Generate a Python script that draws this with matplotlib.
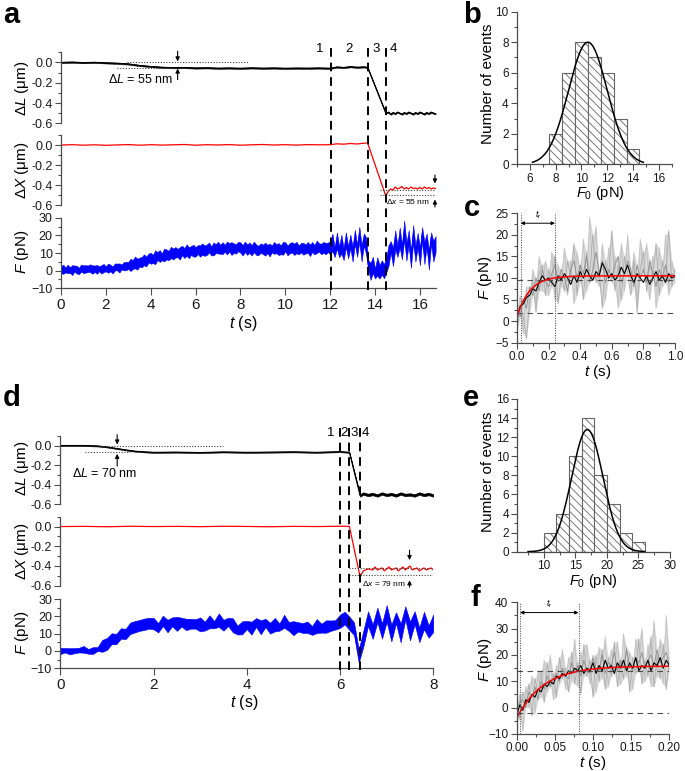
import numpy as np
import matplotlib
matplotlib.use('Agg')
import matplotlib.pyplot as plt
import matplotlib.transforms as mtrans
from matplotlib.lines import Line2D
from matplotlib.ticker import MultipleLocator

plt.rcParams['font.family'] = ['Liberation Sans', 'DejaVu Sans']
plt.rcParams['mathtext.fontset'] = 'custom'
plt.rcParams['mathtext.rm'] = 'Liberation Sans'
plt.rcParams['mathtext.it'] = 'Liberation Sans:italic'
plt.rcParams['hatch.linewidth'] = 0.6
plt.rcParams['hatch.color'] = '0.4'
plt.rcParams['axes.linewidth'] = 0.9

# ---------------- DATA ----------------
# Panel a : force trace (pN), sampled every 0.1 s from t = 0
Fa_dt = 0.1
Fa_center = [
    0.5, 0.8, 0.2, 1.0, 0.5, 0.3, 1.1, 0.6, 0.4, 0.9,
    1.2, 0.7, 1.5, 0.8, 1.0, 1.3, 0.6, 1.1, 0.9, 1.4,
    0.8, 1.2, 1.6, 1.0, 1.5, 2.0, 1.7, 2.3, 2.6, 2.4,
    3.0, 3.4, 3.2, 4.1, 4.5, 4.3, 5.2, 5.6, 6.0, 6.3,
    7.0, 6.8, 7.6, 8.0, 8.3, 8.1, 8.9, 9.2, 9.0, 9.6,
    10.0, 9.7, 10.4, 10.2, 10.8, 10.5, 11.0, 10.7, 11.2, 11.0,
    11.4, 11.1, 11.8, 11.5, 12.0, 11.7, 12.3, 12.0, 12.6, 12.2,
    12.8, 12.4, 13.0, 12.7, 12.5, 13.1, 12.8, 12.6, 13.0, 12.7,
    12.9, 12.5, 12.8, 12.3, 12.6, 12.2, 12.5, 12.0, 12.4, 12.1,
    12.2, 11.9, 12.4, 12.0, 12.3, 12.6, 12.2, 12.5, 12.1, 12.4,
    12.7, 12.3, 12.9, 12.5, 12.8, 12.4, 12.6, 12.3, 12.7, 12.5,
    12.6, 12.2, 12.9, 12.5, 13.1, 12.7, 13.0, 12.6, 13.2, 12.8,
    13.0, 16.0, 10.0, 17.0, 11.0, 15.0, 9.0, 17.5, 11.5, 15.5,
    10.0, 18.5, 12.0, 19.5, 10.5, 18.0, 14.0, 3.0, 0.0, 3.0,
    -2.0, 2.0, -0.5, 3.0, -1.5, 3.0, 9.0, 14.0, 8.0, 17.0,
    11.0, 19.0, 10.0, 22.0, 12.0, 18.0, 7.0, 20.0, 11.0, 16.0,
    8.0, 21.0, 10.0, 17.0, 6.0, 19.0, 11.0, 15.0]
# point-by-point spread of the noise band (relative)
Fa_jitter = [
    1.0, 1.3, 0.8, 1.2, 0.7, 1.4, 0.9, 1.1, 0.6, 1.3,
    0.9, 1.2, 0.7, 1.4, 1.0, 0.8, 1.3, 0.7, 1.1, 1.2,
    0.8, 1.4, 0.9, 0.7, 1.3, 1.0, 1.2, 0.6, 1.1, 1.3,
    0.7, 1.2, 1.0, 1.4, 0.8, 1.1, 0.9, 1.3, 0.7, 1.2,
    1.1, 0.8, 1.4, 0.9, 1.2, 0.6, 1.3, 1.0, 0.8, 1.4,
    0.9, 1.3, 0.7, 1.1, 1.2, 0.8, 1.4, 0.9, 1.0, 1.3,
    0.7, 1.2, 0.9, 1.4, 0.8, 1.1, 1.3, 0.6, 1.2, 1.0,
    1.3, 0.8, 1.1, 0.7, 1.4, 0.9, 1.2, 1.0, 0.7, 1.3,
    1.1, 0.7, 1.3, 0.9, 1.2, 0.8, 1.4, 1.0, 0.6, 1.2,
    0.9, 1.4, 0.8, 1.2, 0.7, 1.3, 1.0, 1.1, 0.8, 1.4,
    1.2, 0.7, 1.0, 1.3, 0.9, 1.4, 0.6, 1.2, 1.1, 0.8,
    1.3, 0.9, 1.2, 0.7, 1.4, 1.0, 0.8, 1.3, 0.9, 1.1,
    1.0, 1.3, 0.8, 1.2, 0.7, 1.4, 0.9, 1.1, 0.6, 1.3,
    0.9, 1.2, 0.7, 1.4, 1.0, 0.8, 1.3, 0.7, 1.1, 1.2,
    0.8, 1.4, 0.9, 0.7, 1.3, 1.0, 1.2, 0.6, 1.1, 1.3,
    0.7, 1.2, 1.0, 1.4, 0.8, 1.1, 0.9, 1.3, 0.7, 1.2,
    1.1, 0.8, 1.4, 0.9, 1.2, 0.6, 1.3, 1.0]
Fa_amp_edges = [0.0, 3.0, 12.0, 13.7, 14.5, 17.0]
Fa_amp = [2.0, 2.8, 3.8, 4.0, 4.5]

La_t = [0, 0.5, 1, 1.5, 2, 2.5, 3, 3.5, 4, 4.5, 5, 5.5, 6, 6.5, 7, 7.5, 8, 8.5,
        9, 9.5, 10, 10.5, 11, 11.5, 12, 12.3, 12.6, 12.9, 13.2, 13.5, 13.67,
        14.48, 14.6, 14.7, 14.8, 14.9, 15.0, 15.1, 15.2, 15.3, 15.4, 15.5, 15.6,
        15.7, 15.8, 15.9, 16.0, 16.1, 16.2, 16.3, 16.4, 16.5, 16.6, 16.7]
La_v = [0.0, 0.003, -0.002, 0.001, -0.004, -0.008, -0.015, -0.03, -0.04, -0.048,
        -0.052, -0.05, -0.055, -0.053, -0.057, -0.055, -0.058, -0.054, -0.057,
        -0.055, -0.058, -0.056, -0.057, -0.055, -0.058, -0.045, -0.05, -0.042,
        -0.048, -0.044, -0.05,
        -0.50, -0.49, -0.51, -0.495, -0.505, -0.49, -0.5, -0.51, -0.495, -0.505,
        -0.49, -0.5, -0.51, -0.495, -0.505, -0.49, -0.5, -0.51, -0.495, -0.505,
        -0.49, -0.5, -0.505]

Xa_t = [0, 0.5, 1, 1.5, 2, 2.5, 3, 3.5, 4, 4.5, 5, 5.5, 6, 6.5, 7, 7.5, 8, 8.5,
        9, 9.5, 10, 10.5, 11, 11.5, 12, 12.3, 12.6, 12.9, 13.2, 13.5, 13.67,
        14.48, 14.6, 14.7, 14.8, 14.9, 15.0, 15.1, 15.2, 15.3, 15.4, 15.5, 15.6,
        15.7, 15.8, 15.9, 16.0, 16.1, 16.2, 16.3, 16.4, 16.5, 16.6, 16.7]
Xa_v = [0.0, 0.003, -0.002, 0.002, -0.003, 0.001, 0.004, -0.002, 0.003, -0.001,
        0.002, 0.005, -0.002, 0.003, 0.0, 0.004, -0.002, 0.002, 0.005, 0.0,
        0.003, -0.001, 0.004, 0.002, 0.003, 0.012, 0.008, 0.015, 0.01, 0.018,
        0.02, -0.51, -0.46, -0.44, -0.45, -0.42, -0.44, -0.43, -0.415, -0.44,
        -0.425, -0.44, -0.42, -0.435, -0.43, -0.44, -0.425, -0.44, -0.42,
        -0.435, -0.425, -0.44, -0.43, -0.435]

a_events_t = [12.04, 13.67, 14.48]
a_event_labels = ['1', '2', '3', '4']
a_event_label_t = [11.55, 12.85, 14.05, 14.8]

# Panel d
Fd_dt = 0.1
Fd_center = [
    0.0, 0.5, -0.3, 0.6, 0.2, 0.8, -0.2, 0.4, 1.2, 2.5,
    4.5, 6.0, 7.5, 9.5, 11.0, 12.5, 14.0, 15.5, 14.5, 16.5,
    15.5, 14.0, 16.5, 15.0, 17.0, 15.5, 16.5, 15.0, 16.5, 15.0,
    15.5, 14.5, 17.0, 15.5, 17.5, 15.0, 16.5, 15.0, 12.5, 13.5,
    15.0, 13.0, 16.0, 13.5, 16.5, 13.0, 15.5, 13.5, 17.0, 14.0,
    13.0, 14.5, 12.5, 14.0, 12.0, 14.5, 13.0, 13.5, 15.5, 14.5,
    17.5, 18.5, 17.0, 12.0, -3.0, 8.0, 17.0, 12.0, 20.0, 13.0,
    21.0, 11.0, 19.0, 10.0, 22.0, 12.0, 20.0, 8.0, 18.0, 11.0, 16.0]
Fd_jitter = [
    1.2, 0.8, 1.3, 0.7, 1.1, 1.4, 0.9, 1.2, 0.7, 1.3,
    1.0, 1.4, 0.8, 1.2, 0.6, 1.3, 1.1, 0.8, 1.4, 0.9,
    1.2, 0.7, 1.3, 1.0, 0.8, 1.4, 0.9, 1.2, 0.7, 1.1,
    1.3, 0.8, 1.2, 0.6, 1.4, 1.0, 0.9, 1.3, 0.7, 1.2,
    0.8, 1.3, 1.0, 1.4, 0.7, 1.1, 1.2, 0.8, 1.3, 0.9,
    1.4, 0.7, 1.2, 1.0, 0.8, 1.3, 0.9, 1.4, 0.7, 1.1,
    1.0, 1.2, 0.8, 1.3, 1.1, 0.9, 1.4, 0.8, 1.2, 0.7,
    1.3, 1.0, 0.8, 1.4, 0.9, 1.2, 0.7, 1.3, 1.1, 0.9, 1.2]
Fd_amp_edges = [0.0, 0.9, 6.0, 6.45, 8.1]
Fd_amp = [1.5, 3.0, 3.5, 4.2]

Ld_t = [0, 0.5, 0.8, 1.0, 1.2, 1.4, 1.6, 1.8, 2.0, 2.5, 3, 3.5, 4, 4.5, 5, 5.5,
        6.0, 6.2, 6.43, 6.5, 6.6, 6.7, 6.8, 6.9, 7.0, 7.1, 7.2, 7.3, 7.4, 7.5,
        7.6, 7.7, 7.8, 7.9, 8.0]
Ld_v = [0.0, 0.0, -0.005, -0.015, -0.03, -0.045, -0.058, -0.065, -0.07, -0.068,
        -0.072, -0.066, -0.07, -0.068, -0.065, -0.07, -0.063, -0.07, -0.51,
        -0.49, -0.505, -0.495, -0.51, -0.49, -0.505, -0.495, -0.51, -0.49,
        -0.505, -0.5, -0.51, -0.49, -0.505, -0.495, -0.51]
Ld_amp_edges = [0.0, 6.43, 8.1]
Ld_amp = [0.005, 0.013]

Xd_t = [0, 0.5, 1, 1.5, 2, 2.5, 3, 3.5, 4, 4.5, 5, 5.5, 6.0, 6.2, 6.43, 6.5,
        6.6, 6.7, 6.75, 6.8, 6.9, 6.95, 7.05, 7.1, 7.2, 7.25, 7.35, 7.4, 7.5,
        7.55, 7.65, 7.7, 7.8, 7.85, 7.95, 8.0]
Xd_v = [0.0, 0.002, -0.002, 0.003, 0.0, 0.002, -0.001, 0.003, 0.001, -0.002,
        0.002, 0.0, 0.003, 0.002, -0.51, -0.45, -0.43, -0.44, -0.41, -0.44,
        -0.42, -0.45, -0.41, -0.44, -0.42, -0.45, -0.41, -0.44, -0.40, -0.44,
        -0.42, -0.45, -0.42, -0.44, -0.42, -0.44]

d_events_t = [5.99, 6.2, 6.43]
d_event_labels = ['1', '2', '3', '4']
d_event_label_t = [5.79, 6.09, 6.30, 6.55]

# Panel b histogram
b_bin_left = [7.5, 8.5, 9.5, 10.5, 11.5, 12.5, 13.5]
b_bin_width = 1.0
b_counts = [2, 6, 8, 7, 6, 3, 1]
b_fit = dict(amp=8.0, mu=10.5, sigma=1.5, lo=6.2, hi=14.8)

# Panel e histogram
e_bin_left = [10, 12, 14, 16, 18, 20, 22, 24]
e_bin_width = 2.0
e_counts = [2, 4, 10, 14, 8, 5, 2, 1]
e_fit = dict(amp=12.8, mu=16.9, sigma=2.5, lo=7.5, hi=26.0)

# Panel c: averaged force rise, sampled every 0.02 s
c_dt = 0.02
c_mean = [1.0, 3.5, 4.0, 5.5, 6.0, 7.5, 7.0, 9.0, 10.5, 9.5,
          10.0, 9.0, 8.0, 10.5, 9.5, 11.0, 10.0, 8.5, 10.5, 9.0,
          11.5, 10.0, 12.0, 10.5, 9.5, 11.5, 10.5, 13.5, 12.0, 10.0,
          11.0, 9.5, 10.5, 12.5, 11.0, 13.0, 10.5, 9.0, 11.0, 10.0,
          9.0, 10.5, 8.5, 10.0, 11.5, 9.5, 10.5, 9.0, 11.0, 10.0, 10.5]
c_gray1 = [0.0, 6.0, -3.0, 8.0, 2.0, 12.0, 4.0, 15.0, 7.0, 14.0,
           6.0, 16.0, 5.0, 13.0, 8.0, 17.0, 6.0, 14.0, 4.0, 16.0,
           9.0, 19.0, 7.0, 24.0, 10.0, 22.0, 8.0, 18.0, 5.0, 17.0,
           9.0, 15.0, 3.0, 18.0, 7.0, 20.0, 8.0, 16.0, 4.0, 19.0,
           11.0, 18.0, 5.0, 15.0, 3.0, 17.0, 8.0, 20.0, 6.0, 14.0, 9.0]
c_gray2 = [-2.0, 3.0, 1.0, -4.0, 5.0, 9.0, 2.0, 11.0, 13.0, 6.0,
           12.0, 8.0, 15.0, 4.0, 11.0, 7.0, 14.0, 10.0, 18.0, 6.0,
           13.0, 5.0, 16.0, 11.0, 20.0, 9.0, 12.0, 3.0, 14.0, 10.0,
           21.0, 7.0, 13.0, 5.0, 15.0, 11.0, 6.0, 14.0, 2.0, 12.0,
           16.0, 7.0, 13.0, 10.0, 18.0, 6.0, 14.0, 9.0, 21.0, 8.0, 12.0]
c_gray3 = [2.0, 1.0, 5.0, 3.0, 8.0, 6.0, 10.0, 7.0, 12.0, 9.0,
           8.0, 11.0, 13.0, 9.0, 12.0, 10.0, 7.0, 12.0, 14.0, 10.0,
           13.0, 11.0, 15.0, 9.0, 12.0, 16.0, 11.0, 14.0, 9.0, 12.0,
           10.0, 13.0, 15.0, 9.0, 11.0, 14.0, 12.0, 8.0, 13.0, 10.0,
           12.0, 9.0, 14.0, 11.0, 8.0, 12.0, 10.0, 13.0, 9.0, 11.0, 10.0]
c_fit = dict(plateau=10.5, start=1.0, tau=0.08)
c_levels = [9.5, 2.0]
c_tr = [0.023, 0.24]

# Panel f
f_dt = 0.004
f_mean = [-3, 1, -1, 3, 2, 5, 4, 7, 6, 9, 8, 10, 9, 12, 11, 13, 12, 14, 13, 15,
          14, 16, 13, 15, 14, 17, 13, 16, 14, 18, 15, 16, 13, 17, 15, 18, 14, 17,
          15, 19, 14, 16, 15, 18, 14, 17, 16, 19, 15, 18, 16]
f_gray1 = [-6, 5, -9, 8, 0, 12, -2, 14, 4, 18, 6, 20, 3, 16, 9, 22, 7, 19, 10, 26,
           8, 21, 12, 24, 9, 20, 6, 23, 11, 27, 8, 22, 13, 25, 9, 28, 12, 21, 7,
           26, 14, 30, 10, 24, 8, 33, 12, 26, 9, 35, 14]
f_gray2 = [2, -4, 6, 1, 9, -3, 11, 5, 14, 2, 17, 8, 13, 4, 19, 11, 15, 6, 21, 9,
           17, 5, 24, 12, 18, 4, 20, 10, 22, 7, 19, 12, 25, 8, 17, 11, 23, 6, 19,
           13, 26, 9, 18, 12, 27, 8, 20, 11, 24, 7, 19]
f_gray3 = [-1, 2, 3, 0, 6, 4, 8, 3, 10, 7, 12, 8, 11, 13, 10, 15, 12, 11, 17, 13,
           16, 12, 18, 14, 13, 19, 15, 14, 20, 13, 17, 16, 21, 14, 18, 15, 22, 16,
           14, 19, 17, 21, 15, 18, 20, 16, 22, 17, 19, 21, 16]
f_fit = dict(plateau=15.8, start=-4.0, tau=0.035)
f_levels = [14.0, -2.0]
f_tr = [0.0044, 0.081]

# ---------------- FIGURE ----------------
W, H = 685, 771
fig = plt.figure(figsize=(W / 100, H / 100), dpi=100)
SP = '0.3'


def add_ax(l, r, t, b):
    return fig.add_axes([l / W, 1 - b / H, (r - l) / W, (b - t) / H])


def style(ax, xbottom=True, ysize=9, xsize=9):
    for s in ['top', 'right']:
        ax.spines[s].set_visible(False)
    for s in ['left', 'bottom']:
        ax.spines[s].set_color(SP)
    ax.patch.set_alpha(0)
    ax.tick_params(which='both', direction='out', color=SP, width=0.8,
                   labelcolor='0.1', pad=2)
    ax.tick_params(which='major', length=4)
    ax.tick_params(which='minor', length=2.5)
    ax.tick_params(axis='y', labelsize=ysize)
    ax.tick_params(axis='x', labelsize=xsize)
    if not xbottom:
        ax.spines['bottom'].set_visible(False)
        ax.tick_params(axis='x', which='both', bottom=False, labelbottom=False)


def seg_amp(t, edges, vals):
    idx = np.clip(np.searchsorted(edges, t, side='right') - 1, 0, len(vals) - 1)
    return np.asarray(vals)[idx]


def draw_band(ax, t, v, up, dn, color, lw=0.7):
    t = np.asarray(t, float); v = np.asarray(v, float)
    ax.fill_between(t, v - dn, v + up, color=color, lw=0.4, edgecolor=color)
    ax.plot(t, v, color=color, lw=lw)


def ftext(x, y, s, **kw):
    fig.text(x / W, 1 - y / H, s, **kw)


def arrow(ax, x, y0, y1, lw=0.8):
    ax.annotate('', xy=(x, y1), xytext=(x, y0), annotation_clip=False,
                arrowprops=dict(arrowstyle='-|>', lw=lw, color='k',
                                mutation_scale=6, shrinkA=0, shrinkB=0))


def trace_panel(l, r, tops, xmax, Lt, Lv, Lamp, Xt, Xv, Fc, Fdt, Famp, Fjit,
                ev, evlab, evlab_t, dash_top, dash_bot, lab_y, xlab_y, xlab_x):
    axL = add_ax(l, r, *tops[0])
    axX = add_ax(l, r, *tops[1])
    axF = add_ax(l, r, *tops[2])
    for ax in (axL, axX):
        style(ax, xbottom=False)
        ax.set_ylim(-0.6, 0.1)
        ax.set_xlim(0, xmax)
        ax.yaxis.set_major_locator(MultipleLocator(0.2))
        ax.yaxis.set_minor_locator(MultipleLocator(0.1))
        ax.yaxis.set_major_formatter(matplotlib.ticker.FuncFormatter(
            lambda v, p: f'{v:.1f}'.replace('-0.0', '0.0')))
    style(axF, xbottom=True, ysize=9, xsize=11)
    axF.set_xlim(0, xmax)
    axF.set_ylim(-10, 30)
    axF.yaxis.set_major_locator(MultipleLocator(10))
    axF.yaxis.set_minor_locator(MultipleLocator(5))
    axF.xaxis.set_major_locator(MultipleLocator(2))
    axF.tick_params(axis='x', which='major', length=5)

    Lt = np.asarray(Lt, float)
    la = Lamp(Lt)
    draw_band(axL, Lt, Lv, la, la, 'k', lw=0.8)
    axX.plot(Xt, Xv, color='red', lw=0.9)
    tF = np.arange(len(Fc)) * Fdt
    base = Famp(tF)
    jit = np.asarray(Fjit, float)
    draw_band(axF, tF, Fc, base * jit, base * jit[::-1], 'blue', lw=0.6)

    tr = mtrans.blended_transform_factory(axF.transData, fig.transFigure)
    for x in ev:
        fig.add_artist(Line2D([x, x], [1 - dash_top / H, 1 - dash_bot / H],
                              transform=tr, color='k', lw=1.4,
                              ls=(0, (4.5, 3))))
    for s, x in zip(evlab, evlab_t):
        axL.text(x, 0.13, s, ha='center', va='center', fontsize=9.5,
                 clip_on=False)
    ftext(22, lab_y[0], 'Δ$L$ (μm)', rotation=90, ha='center', va='center',
          fontsize=11)
    ftext(22, lab_y[1], 'Δ$X$ (μm)', rotation=90, ha='center', va='center',
          fontsize=11)
    ftext(22, lab_y[2], '$F$ (pN)', rotation=90, ha='center', va='center',
          fontsize=11)
    ftext(xlab_x, xlab_y, '$t$ (s)', ha='center', va='center', fontsize=11.5)
    return axL, axX, axF


# ----- panel a -----
axLa, axXa, axFa = trace_panel(
    61, 435.6, [(52.3, 123.3), (135, 205), (217.7, 288.3)], 16.7,
    La_t, La_v, lambda t: 0.006 + 0 * t, Xa_t, Xa_v, Fa_center, Fa_dt,
    lambda t: seg_amp(t, Fa_amp_edges, Fa_amp), Fa_jitter, a_events_t,
    a_event_labels, a_event_label_t, 48, 291, (88, 170, 252), 323, 243)
dot = dict(color='0.25', lw=0.8, ls=(0, (1, 1.5)))
axLa.plot([2.94, 8.34], [0.0, 0.0], **dot)
axLa.plot([2.5, 5.08], [-0.053, -0.053], **dot)
arrow(axLa, 5.2, 0.11, 0.01)
arrow(axLa, 5.2, -0.17, -0.06)
axLa.text(5.02, -0.165, 'Δ$L$ = 55 nm', ha='right', va='center', fontsize=9)
axXa.plot([14.2, 16.7], [-0.445, -0.445], **dot)
axXa.plot([14.2, 16.7], [-0.5, -0.5], **dot)
axXa.text(14.5, -0.57, 'Δ$x$ = 55 nm', ha='left', va='center', fontsize=6)
arrow(axXa, 16.67, -0.30, -0.385)
arrow(axXa, 16.67, -0.62, -0.545)

# ----- panel d -----
axLd, axXd, axFd = trace_panel(
    60.3, 433.3, [(435.7, 504.3), (516.7, 585.7), (599, 668.3)], 8.0,
    Ld_t, Ld_v, lambda t: seg_amp(t, Ld_amp_edges, Ld_amp), Xd_t, Xd_v,
    Fd_center, Fd_dt, lambda t: seg_amp(t, Fd_amp_edges, Fd_amp), Fd_jitter,
    d_events_t, d_event_labels, d_event_label_t, 428, 670,
    (468, 551, 633), 702, 244)
axLd.plot([0.85, 3.49], [0.0, 0.0], **dot)
axLd.plot([0.53, 1.5], [-0.068, -0.068], **dot)
arrow(axLd, 1.22, 0.11, 0.01)
arrow(axLd, 1.22, -0.21, -0.085)
axLd.text(0.25, -0.29, 'Δ$L$ = 70 nm', ha='left', va='center', fontsize=9)
axXd.plot([6.2, 8.0], [-0.42, -0.42], **dot)
axXd.plot([6.2, 8.0], [-0.495, -0.495], **dot)
axXd.text(6.48, -0.575, 'Δ$x$ = 79 nm', ha='left', va='center', fontsize=6)
arrow(axXd, 7.49, -0.24, -0.34)
arrow(axXd, 7.49, -0.615, -0.545)


# ----- histograms -----
def hist_panel(l, r, t, b, left, width, counts, fit, xlim, ylim, xmaj, xmin,
               ymaj, ymin, ylab_xy, xlab_xy):
    ax = add_ax(l, r, t, b)
    style(ax, ysize=8.5, xsize=8.5)
    ax.bar(left, counts, width=width, align='edge', facecolor='white',
           edgecolor='0.4', lw=0.8, hatch='\\\\\\\\', zorder=2)
    xs = np.linspace(fit['lo'], fit['hi'], 300)
    ax.plot(xs, fit['amp'] * np.exp(-(xs - fit['mu']) ** 2 /
                                    (2 * fit['sigma'] ** 2)),
            color='k', lw=1.1, zorder=3)
    ax.set_xlim(*xlim); ax.set_ylim(*ylim)
    ax.xaxis.set_major_locator(MultipleLocator(xmaj))
    ax.xaxis.set_minor_locator(MultipleLocator(xmin))
    ax.yaxis.set_major_locator(MultipleLocator(ymaj))
    ax.yaxis.set_minor_locator(MultipleLocator(ymin))
    ftext(*ylab_xy, 'Number of events', rotation=90, ha='center',
          va='center', fontsize=11)
    ftext(*xlab_xy, '$F_0$ (pN)', ha='center', va='center', fontsize=10.5)
    return ax


hist_panel(517, 671.7, 11.7, 164.3, b_bin_left, b_bin_width, b_counts, b_fit,
           (5, 17), (0, 10), 2, 1, 2, 1, (488, 84), (600, 193))
hist_panel(517.3, 670, 399, 551.7, e_bin_left, e_bin_width, e_counts, e_fit,
           (5.8, 30), (0, 16), 5, 2.5, 2, 1, (488, 472), (593, 581))


# ----- averaged rise panels -----
def rise_panel(l, r, t, b, dt, grays, mean, fit, levels, tr, xlim, ylim,
               xmaj, xmin, ymaj, ymin, fmt, arrow_y, tr_y, ylab_xy, xlab_xy):
    ax = add_ax(l, r, t, b)
    style(ax, ysize=8.5, xsize=8.5)
    tt = np.arange(len(grays[0])) * dt
    garr = np.array(grays, float)
    ax.fill_between(tt, garr.min(axis=0), garr.max(axis=0), color='0.86',
                    lw=0)
    gcols = ['0.76', '0.68', '0.55']
    for g, c in zip(grays, gcols):
        ax.plot(tt, g, color=c, lw=0.6)
    tt = np.arange(len(mean)) * dt
    ax.plot(tt, mean, color='k', lw=0.8)
    xs = np.linspace(xlim[0], xlim[1], 300)
    ax.plot(xs, fit['plateau'] - (fit['plateau'] - fit['start']) *
            np.exp(-xs / fit['tau']), color='red', lw=1.1)
    for lv in levels:
        ax.axhline(lv, color='0.3', lw=0.8, ls=(0, (5, 4)))
    for x in tr:
        ax.axvline(x, color='0.35', lw=0.8, ls=(0, (1, 1.2)))
    ax.annotate('', xy=(tr[0], arrow_y), xytext=(tr[1], arrow_y),
                arrowprops=dict(arrowstyle='<|-|>', lw=0.7, color='k',
                                mutation_scale=5, shrinkA=0, shrinkB=0))
    ax.text((tr[0] + tr[1]) / 2, tr_y, '$t_\\mathrm{r}$', ha='center',
            va='center', fontsize=6.5)
    ax.set_xlim(*xlim); ax.set_ylim(*ylim)
    ax.xaxis.set_major_locator(MultipleLocator(xmaj))
    ax.xaxis.set_minor_locator(MultipleLocator(xmin))
    ax.yaxis.set_major_locator(MultipleLocator(ymaj))
    ax.yaxis.set_minor_locator(MultipleLocator(ymin))
    ax.xaxis.set_major_formatter(matplotlib.ticker.FormatStrFormatter(fmt))
    ftext(*ylab_xy, '$F$ (pN)', rotation=90, ha='center', va='center',
          fontsize=11)
    ftext(*xlab_xy, '$t$ (s)', ha='center', va='center', fontsize=11)
    return ax


rise_panel(517, 675, 213.3, 342.7, c_dt, [c_gray1, c_gray2, c_gray3], c_mean,
           c_fit, c_levels, c_tr, (0, 1.0), (-5, 25), 0.2, 0.1, 5, 2.5,
           '%.1f', 22.7, 24.6, (485, 278), (598, 372))
rise_panel(516.7, 669.3, 602.3, 734, f_dt, [f_gray1, f_gray2, f_gray3], f_mean,
           f_fit, f_levels, f_tr, (0, 0.2), (-10, 40), 0.05, 0.025, 10, 5,
           '%.2f', 36.1, 39.3, (485, 660), (593, 763))

# panel letters
for s, x, y in [('a', 3, 23), ('b', 463, 22.7), ('c', 464, 216),
                ('d', 3, 406), ('e', 463, 406), ('f', 470, 606)]:
    ftext(x, y, s, ha='left', va='baseline', fontsize=21, fontweight='bold')

fig.savefig('out.png', dpi=100)
